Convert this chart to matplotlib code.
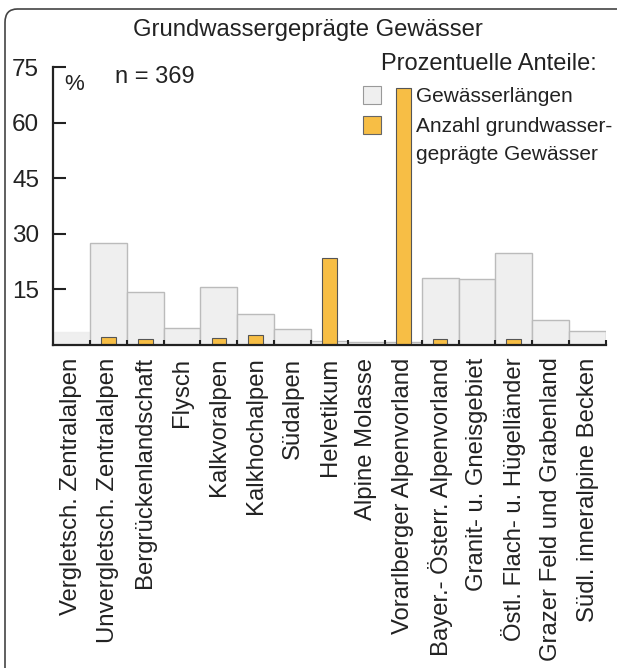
import numpy as np
import matplotlib
matplotlib.use("Agg")
import matplotlib.pyplot as plt
from matplotlib.patches import FancyBboxPatch

plt.rcParams['font.family'] = ['Liberation Sans', 'DejaVu Sans']

# Daten
regionen = [
    "Vergletsch. Zentralalpen", "Unvergletsch. Zentralalpen", "Bergrückenlandschaft",
    "Flysch", "Kalkvoralpen", "Kalkhochalpen", "Südalpen", "Helvetikum",
    "Alpine Molasse", "Vorarlberger Alpenvorland", "Bayer.- Österr. Alpenvorland",
    "Granit- u. Gneisgebiet", "Östl. Flach- u. Hügelländer", "Grazer Feld und Grabenland",
    "Südl. inneralpine Becken",
]
gewaesserlaengen = [3.4, 27.6, 14.2, 4.5, 15.7, 8.4, 4.2, 1.0, 0.7, 0.8, 18.0, 17.7, 24.9, 6.7, 3.7]
anzahl_gw = [0, 2.2, 1.6, 0, 1.9, 2.7, 0, 23.5, 0, 69.3, 1.5, 0, 1.5, 0, 0]
yticks = [15, 30, 45, 60, 75]

txt = '#222222'
grau = '#efefef'
orange = '#f7be45'

fig = plt.figure(figsize=(6.17, 6.68), dpi=100)

# abgerundeter Rahmen um die Grafik
rahmen = FancyBboxPatch((5 / 617, -0.1), 1.2, 1.1 - 9 / 668,
                        boxstyle="round,pad=0,rounding_size=0.02",
                        transform=fig.transFigure, fc='none', ec='#444444', lw=1.2)
fig.patches.append(rahmen)

ax = fig.add_axes([53 / 617, 1 - 345 / 668, (606 - 53) / 617, (345 - 67) / 668])
x = np.arange(len(regionen))

# erster Balken im Original ohne Kontur
kanten = ['#eeeeee'] + ['#bbbbbb'] * (len(regionen) - 1)
ax.bar(x, gewaesserlaengen, width=1.0, color=grau, edgecolor=kanten, lw=1.0, zorder=1)
ax.bar(x, anzahl_gw, width=0.4, color=orange, edgecolor='#555555', lw=0.8, zorder=2)

ax.set_xlim(-0.5, len(regionen) - 0.5)
ax.set_ylim(0, 75)
ax.set_yticks(yticks)
ax.set_yticklabels([str(v) for v in yticks], fontsize=17.5, color=txt)
ax.tick_params(axis='y', direction='in', length=9.5, width=1.5, pad=10, color=txt)

ax.set_xticks(x)
ax.set_xticklabels(regionen, rotation=90, fontsize=17.2, color=txt, va='top')
ax.tick_params(axis='x', which='major', length=0, pad=9)
ax.set_xticks(np.arange(0.5, len(regionen)), minor=True)
ax.tick_params(axis='x', which='minor', direction='in', length=3.5, width=1.5, color=txt)

for s in ['top', 'right']:
    ax.spines[s].set_visible(False)
for s in ['left', 'bottom']:
    ax.spines[s].set_linewidth(1.6)
    ax.spines[s].set_color(txt)
    ax.spines[s].set_zorder(5)

# Texte
fig.text(308 / 617, 1 - 30 / 668, "Grundwassergeprägte Gewässer", ha='center', va='center',
         fontsize=17.2, color=txt)
fig.text(74 / 617, 1 - 85 / 668, "%", ha='center', va='center', fontsize=16, color=txt)
fig.text(115 / 617, 1 - 77 / 668, "n = 369", ha='left', va='center', fontsize=17, color=txt)

# Legende
fig.text(597 / 617, 1 - 64 / 668, "Prozentuelle Anteile:", ha='right', va='center',
         fontsize=17, color=txt)
for yy, fc, ec in [(95, grau, '#999999'), (125, orange, '#666666')]:
    fig.patches.append(plt.Rectangle((363 / 617, 1 - (yy + 9) / 668), 18 / 617, 18 / 668,
                                     transform=fig.transFigure, fc=fc, ec=ec, lw=0.8))
fig.text(416 / 617, 1 - 96 / 668, "Gewässerlängen", ha='left', va='center', fontsize=15, color=txt)
fig.text(416 / 617, 1 - 126 / 668, "Anzahl grundwasser-", ha='left', va='center', fontsize=15, color=txt)
fig.text(416 / 617, 1 - 155 / 668, "geprägte Gewässer", ha='left', va='center', fontsize=15, color=txt)

fig.savefig("out.png", dpi=100)
